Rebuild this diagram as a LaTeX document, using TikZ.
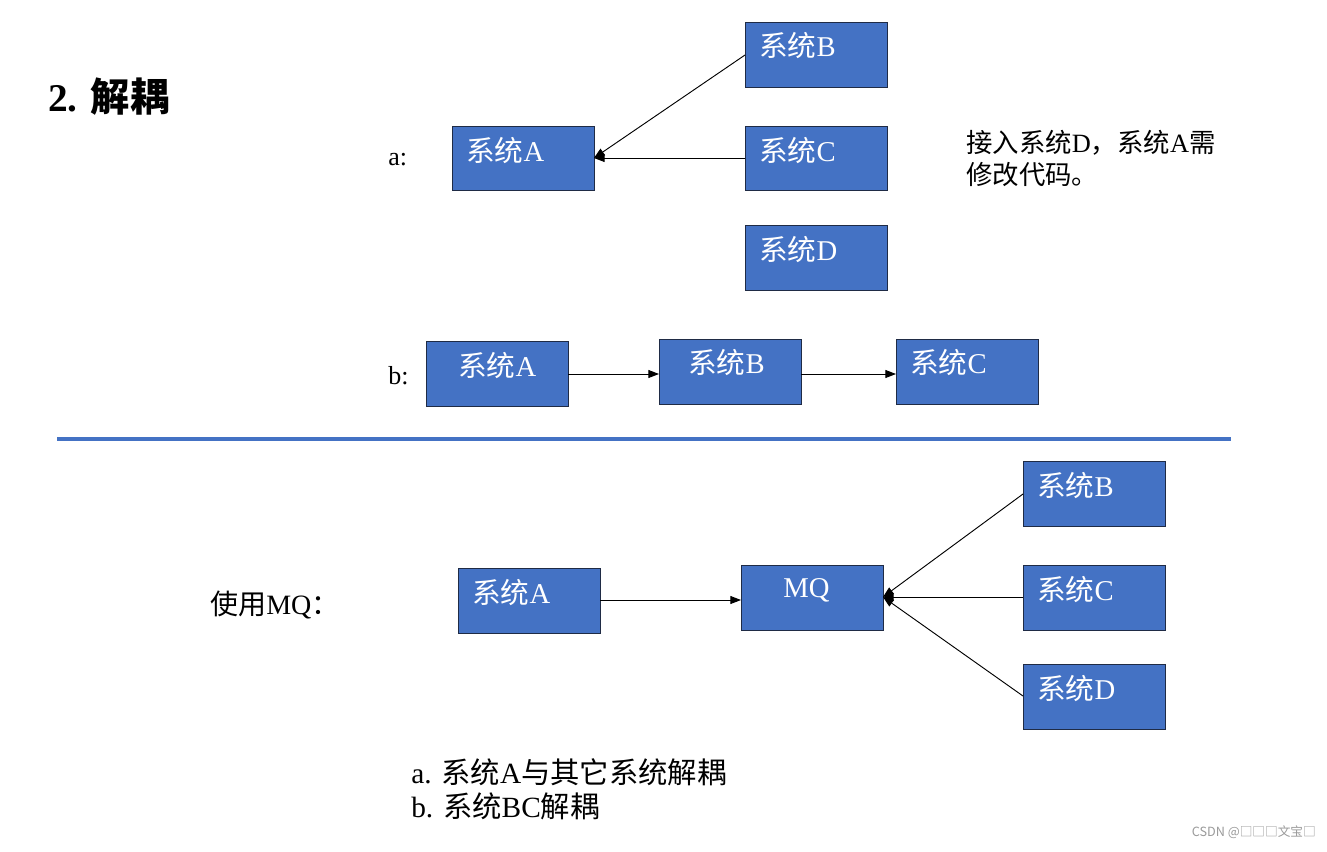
\documentclass[tikz,border=0pt]{standalone}
\usepackage{fontspec}
\setmainfont{Liberation Serif}
\newfontfamily\cjk{Noto Sans CJK SC}
\newfontfamily\wmfont{Noto Sans CJK SC}
\usetikzlibrary{arrows.meta}
\definecolor{boxblue}{HTML}{4472C4}
\definecolor{boxedge}{HTML}{1F2B45}
\definecolor{wmgray}{HTML}{9A9A9A}
\begin{document}
\begin{tikzpicture}[x=0.75pt,y=-0.75pt,
  sysbox/.style={draw=boxedge,fill=boxblue,line width=0.75pt},
  boxlabel/.style={anchor=west,inner sep=0pt,text=white,font=\fontsize{21.5pt}{24pt}\selectfont},
  plain/.style={anchor=west,inner sep=0pt,font=\fontsize{19.5pt}{24pt}\selectfont},
  conn/.style={line width=0.7pt,-{Triangle[length=8pt,width=6pt]}}
]
\useasboundingbox (0,0) rectangle (1327,851);
% title
\node[anchor=west,inner sep=0pt,font=\fontsize{29.5pt}{32pt}\selectfont\bfseries] (title) at (48,97) {2. {\cjk 解耦}};
% ---- part a
\node[plain] (la) at (388,160) {a:};
\path[sysbox] (452,126) rectangle (594,190);
\node[boxlabel] (aAt) at (466,150) {{\cjk 系统}A};
\path[sysbox] (745,22) rectangle (887,87);
\node[boxlabel] (aBt) at (759,46) {{\cjk 系统}B};
\path[sysbox] (745,126) rectangle (887,190);
\node[boxlabel] (aCt) at (759,150) {{\cjk 系统}C};
\path[sysbox] (745,225) rectangle (887,290);
\node[boxlabel] (aDt) at (759,249) {{\cjk 系统}D};
\coordinate (aAe) at (594,158);
\coordinate (aBw) at (745,55);
\coordinate (aCw) at (745,158);
\draw[conn] (aBw) -- (aAe);
\draw[conn] (aCw) -- (aAe);
\node[plain,align=left,font=\fontsize{19.8pt}{24pt}\selectfont] (note) at (966,158) {{\cjk 接入系统}D{\cjk ，系统}A{\cjk 需}\\{\cjk 修改代码。}};
% ---- part b
\node[plain] (lb) at (388,376) {b:};
\path[sysbox] (426,341) rectangle (568,406);
\node[boxlabel] (bAt) at (458,365) {{\cjk 系统}A};
\path[sysbox] (659,339) rectangle (801,404);
\node[boxlabel] (bBt) at (688,362) {{\cjk 系统}B};
\path[sysbox] (896,339) rectangle (1038,404);
\node[boxlabel] (bCt) at (910,362) {{\cjk 系统}C};
\coordinate (bAe) at (568,374);
\coordinate (bBw) at (659,374);
\coordinate (bBe) at (801,374);
\coordinate (bCw) at (896,374);
\draw[conn] (bAe) -- (bBw);
\draw[conn] (bBe) -- (bCw);
% separator
\coordinate (sepL) at (57,439);
\coordinate (sepR) at (1231,439);
\draw[boxblue,line width=3pt] (sepL) -- (sepR);
% ---- MQ part
\node[plain,font=\fontsize{21pt}{24pt}\selectfont] (lmq) at (210,605) {{\cjk 使用}MQ{\cjk ：}};
\path[sysbox] (458,568) rectangle (600,633);
\node[boxlabel] (mAt) at (472,592) {{\cjk 系统}A};
\path[sysbox] (741,565) rectangle (883,630);
\node[boxlabel] (mqt) at (783,590) {MQ};
\path[sysbox] (1023,461) rectangle (1165,526);
\node[boxlabel] (mBt) at (1037,485) {{\cjk 系统}B};
\path[sysbox] (1023,565) rectangle (1165,630);
\node[boxlabel] (mCt) at (1037,589) {{\cjk 系统}C};
\path[sysbox] (1023,664) rectangle (1165,729);
\node[boxlabel] (mDt) at (1037,688) {{\cjk 系统}D};
\coordinate (mAe) at (600,600);
\coordinate (mqw) at (741,600);
\coordinate (mqe) at (883,597);
\coordinate (mBw) at (1023,494);
\coordinate (mCw) at (1023,597);
\coordinate (mDw) at (1023,696);
\draw[conn] (mAe) -- (mqw);
\draw[conn] (mBw) -- (mqe);
\draw[conn] (mCw) -- (mqe);
\draw[conn] (mDw) -- (mqe);
% conclusions
\node[plain,align=left,font=\fontsize{22pt}{25.5pt}\selectfont] (concl) at (411,789) {a. {\cjk 系统}A{\cjk 与其它系统解耦}\\b. {\cjk 系统}BC{\cjk 解耦}};
% watermark
\node[anchor=east,inner sep=0pt,text=wmgray,font=\wmfont\fontsize{9.5pt}{12pt}\selectfont] (wm) at (1316,832) {CSDN @□□□文宝□};
\end{tikzpicture}
\end{document}
